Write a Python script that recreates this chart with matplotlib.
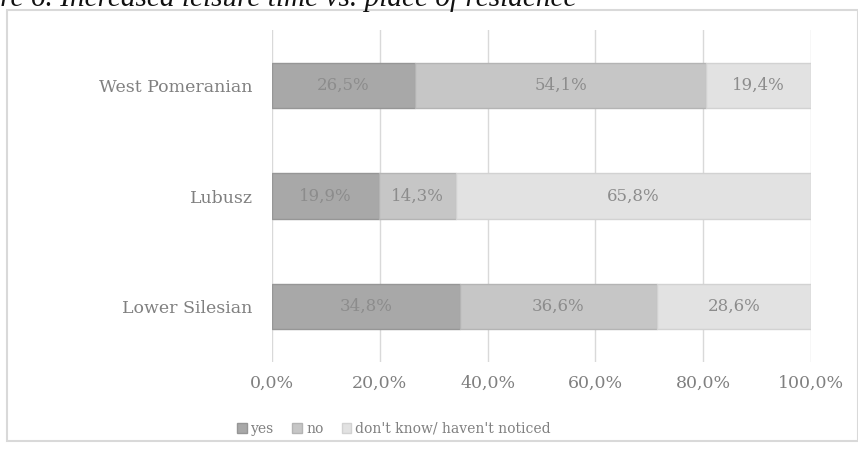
import matplotlib.pyplot as plt
import numpy as np
from matplotlib.patches import Rectangle

regions = ["Lower Silesian", "Lubusz", "West Pomeranian"]
yes = [34.8, 19.9, 26.5]
no = [36.6, 14.3, 54.1]
dont_know = [28.6, 65.8, 19.4]
series_names = ["yes", "no", "don't know/ haven't noticed"]
ticks = [0, 20, 40, 60, 80, 100]
tick_labels = ["0,0%", "20,0%", "40,0%", "60,0%", "80,0%", "100,0%"]

fills = ["#a8a8a8", "#c6c6c6", "#e2e2e2"]
edges = ["#969696", "#b4b4b4", "#d2d2d2"]
txt = "#808080"
serif = "DejaVu Serif"

fig = plt.figure(figsize=(8.58, 4.49), dpi=100)
ax = fig.add_axes([272 / 858, 87 / 449, 539 / 858, 332 / 449])

# outer frame of the chart area
fig.patches.append(Rectangle((7 / 858, 8 / 449), 851 / 858, 431 / 449,
                             transform=fig.transFigure, fill=False,
                             edgecolor="#d9d9d9", linewidth=1.5))

# caption sits above the frame, its start running off the left edge
fig.text(577 / 858, 1 - 6 / 449, "Figure 6. Increased leisure time vs. place of residence",
         fontsize=21.1, fontstyle="italic", family="Liberation Serif",
         color="#111111", va="baseline", ha="right")

y = np.arange(len(regions))
left = np.zeros(len(regions))
for vals, name, fc, ec in zip([yes, no, dont_know], series_names, fills, edges):
    bars = ax.barh(y, vals, left=left, height=0.41, color=fc, edgecolor=ec,
                   linewidth=1.0, label=name, zorder=3)
    for b, v in zip(bars, vals):
        ax.text(b.get_x() + b.get_width() / 2, b.get_y() + b.get_height() / 2,
                f"{v:.1f}%".replace(".", ","), ha="center", va="center",
                fontsize=12, family=serif, color="#8c8c8c", zorder=4)
    left += np.array(vals)

ax.set_xlim(0, 100)
ax.set_ylim(-0.5, 2.5)
ax.set_xticks(ticks)
ax.set_xticklabels(tick_labels, family=serif, fontsize=12.5, color=txt)
ax.set_yticks(y)
ax.set_yticklabels(regions, family=serif, fontsize=12.5, color=txt)
ax.tick_params(axis="both", length=0)
ax.tick_params(axis="x", pad=9)
ax.tick_params(axis="y", pad=14)
ax.grid(axis="x", color="#d9d9d9", linewidth=1.0, zorder=0)
for s in ax.spines.values():
    s.set_visible(False)

leg = ax.legend(loc="upper left", bbox_to_anchor=(-0.088, -0.142), ncol=3,
                frameon=False, prop={"family": serif, "size": 10},
                handlelength=0.7, handleheight=0.7, handletextpad=0.3,
                columnspacing=1.3, labelcolor=txt)

fig.savefig("out.png", dpi=100)
